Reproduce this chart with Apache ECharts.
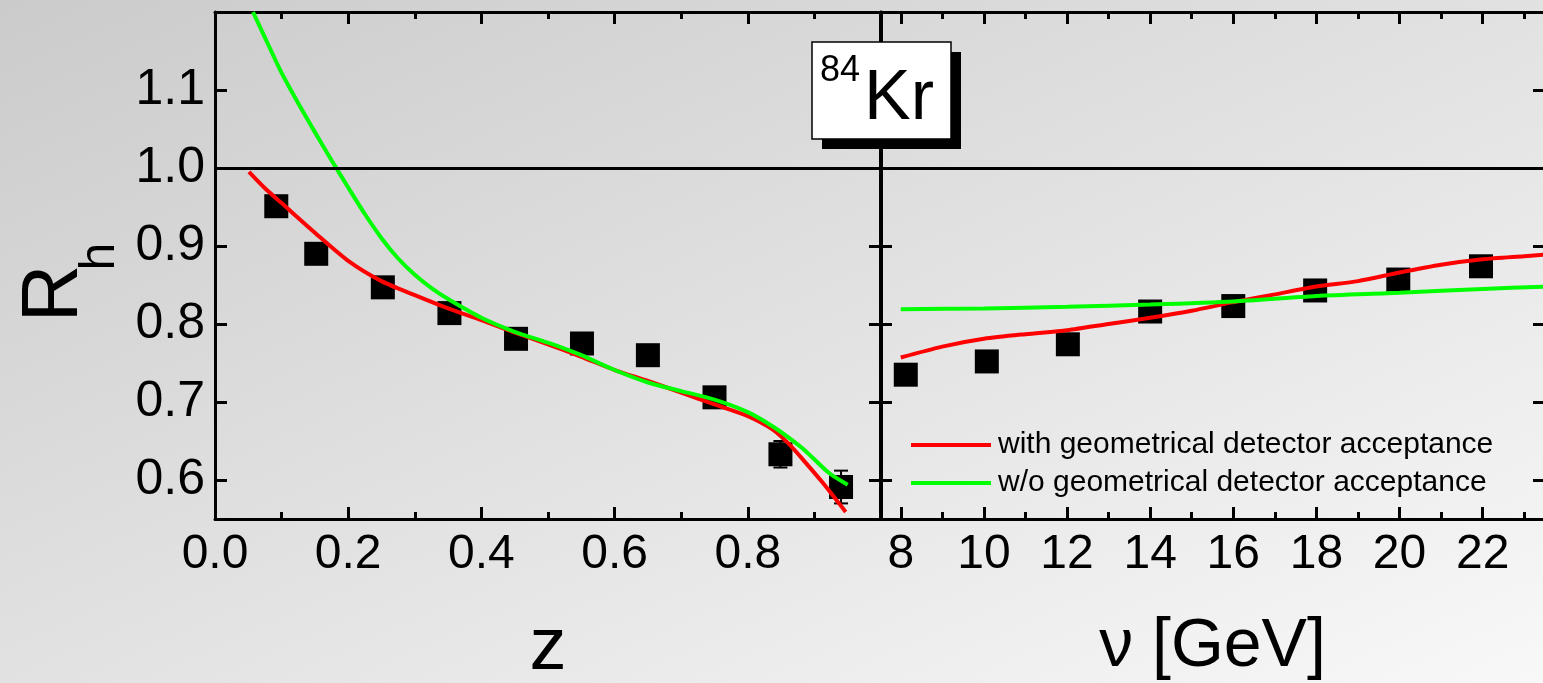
<!DOCTYPE html>
<html>
<head>
<meta charset="utf-8">
<script src="https://cdn.jsdelivr.net/npm/echarts@6/dist/echarts.min.js"></script>
<style>
  html, body { margin: 0; padding: 0; }
  #chart {
    width: 1543px; height: 683px;
    background: linear-gradient(to bottom right, #cbcbcb, #f8f8f8);
  }
</style>
</head>
<body>
<div id="chart"></div>
<script>
// measured points, z dependence
const zVals = [0.092, 0.152, 0.252, 0.352, 0.452, 0.551, 0.650, 0.750, 0.849, 0.940];
const zRh   = [0.951, 0.890, 0.847, 0.814, 0.781, 0.775, 0.760, 0.706, 0.633, 0.591];
const zErr  = [0.004, 0.004, 0.004, 0.004, 0.004, 0.005, 0.005, 0.006, 0.017, 0.021];

// measured points, nu dependence
const nuVals = [8.12, 10.07, 12.02, 14.0, 16.0, 17.97, 19.97, 21.96];
const nuRh   = [0.735, 0.752, 0.774, 0.816, 0.823, 0.843, 0.857, 0.874];
const nuErr  = [0.008, 0.008, 0.008, 0.008, 0.008, 0.008, 0.008, 0.008];

// model curves (with / without geometrical acceptance)
const zCurveX     = [0.051, 0.075, 0.1, 0.15, 0.2, 0.25, 0.3, 0.35, 0.4, 0.45, 0.5, 0.55, 0.6, 0.65, 0.7, 0.75, 0.8, 0.837, 0.862, 0.887, 0.912, 0.947];
const zRedY       = [0.995, 0.974, 0.955, 0.917, 0.881, 0.855, 0.837, 0.820, 0.805, 0.789, 0.774, 0.758, 0.741, 0.727, 0.712, 0.697, 0.682, 0.665, 0.646, 0.622, 0.597, 0.559];
const zGreenX     = [0.057, 0.08, 0.1, 0.125, 0.15, 0.175, 0.2, 0.225, 0.25, 0.275, 0.3, 0.325, 0.35, 0.4, 0.45, 0.5, 0.55, 0.6, 0.65, 0.7, 0.75, 0.8, 0.837, 0.862, 0.887, 0.922, 0.95];
const zGreenY     = [1.200, 1.158, 1.122, 1.083, 1.046, 1.010, 0.975, 0.941, 0.910, 0.884, 0.863, 0.846, 0.832, 0.808, 0.790, 0.776, 0.760, 0.741, 0.725, 0.714, 0.703, 0.687, 0.669, 0.654, 0.637, 0.609, 0.594];

const nuRedX   = [8.0, 9, 10, 11, 12, 13, 14, 15, 16, 17, 18, 19, 20, 21, 22, 23, 23.5];
const nuRedY   = [0.757, 0.771, 0.781, 0.787, 0.792, 0.800, 0.808, 0.817, 0.828, 0.838, 0.848, 0.855, 0.866, 0.876, 0.883, 0.887, 0.889];
const nuGreenX = [8.0, 10, 12, 14, 16, 18, 20, 22, 23.5];
const nuGreenY = [0.819, 0.820, 0.822, 0.825, 0.829, 0.836, 0.840, 0.845, 0.848];

// axis ticks / labels
const rhTicks    = [0.6, 0.7, 0.8, 0.9, 1.0, 1.1];
const nuMajor    = [8, 10, 12, 14, 16, 18, 20, 22];
const nuMinor    = [9, 11, 13, 15, 17, 19, 21, 23];

const nameRed = 'with geometrical detector acceptance';
const nameGreen = 'w/o geometrical detector acceptance';

const FONT = '"Liberation Sans", Arial, sans-serif';
const zip = (a, b) => a.map((v, i) => [v, b[i]]);
const errData = (xs, ys, es) => xs.map((x, i) => [x, ys[i] - es[i], ys[i] + es[i]]);

const lineAx = {show: true, onZero: false, lineStyle: {color: '#000', width: 3}};

function xAx(gridIndex, position, extra) {
    return Object.assign({
        type: 'value', gridIndex, position,
        axisLine: lineAx,
        splitLine: {show: false},
        axisTick: {show: true, inside: true, length: 12, lineStyle: {color: '#000', width: 3}},
        axisLabel: {show: false}
    }, extra);
}

function yAx(gridIndex, position, extra) {
    return Object.assign({
        type: 'value', gridIndex, position, min: 0.55, max: 1.2,
        axisLine: lineAx,
        splitLine: {show: false},
        axisTick: {show: true, inside: true, length: 12, customValues: rhTicks, lineStyle: {color: '#000', width: 3}},
        axisLabel: {show: false}
    }, extra);
}

const zLabel = {
    show: true, fontSize: 48, color: '#000', fontFamily: FONT, margin: 12,
    showMaxLabel: false, formatter: v => v.toFixed(1)
};

function errSeries(xi, yi, data) {
    return {
        type: 'custom', xAxisIndex: xi, yAxisIndex: yi, data, z: 2,
        renderItem: (params, api) => {
            const x = api.value(0);
            const lo = api.coord([x, api.value(1)]);
            const hi = api.coord([x, api.value(2)]);
            const st = {stroke: '#000', lineWidth: 2};
            return {
                type: 'group', children: [
                    {type: 'line', shape: {x1: lo[0], y1: lo[1], x2: hi[0], y2: hi[1]}, style: st},
                    {type: 'line', shape: {x1: lo[0] - 7, y1: lo[1], x2: lo[0] + 7, y2: lo[1]}, style: st},
                    {type: 'line', shape: {x1: hi[0] - 7, y1: hi[1], x2: hi[0] + 7, y2: hi[1]}, style: st}
                ]
            };
        }
    };
}

function curve(name, color, xi, yi, data, withOne) {
    const s = {
        name, type: 'line', xAxisIndex: xi, yAxisIndex: yi, data,
        showSymbol: false, symbol: 'none', smooth: 0.25, z: 4,
        color: color,
        lineStyle: {color, width: 4},
        itemStyle: {color}
    };
    if (withOne) {
        s.markLine = {
            silent: true, symbol: 'none', label: {show: false},
            lineStyle: {color: '#000', width: 3, type: 'solid'},
            data: [{yAxis: 1.0}]
        };
    }
    return s;
}

function points(xi, yi, data) {
    return {
        type: 'scatter', xAxisIndex: xi, yAxisIndex: yi, data,
        symbol: 'rect', symbolSize: 24, itemStyle: {color: '#000', opacity: 1}, z: 3
    };
}

const chart = echarts.init(document.getElementById('chart'));
chart.setOption({
    backgroundColor: 'transparent',
    animation: false,
    textStyle: {fontFamily: FONT},
    grid: [
        {left: 215, top: 12, width: 666, height: 507, containLabel: false, outerBoundsMode: 'none'},
        {left: 880, top: 12, width: 665, height: 507, containLabel: false, outerBoundsMode: 'none'}
    ],
    xAxis: [
        xAx(0, 'bottom', {
            min: 0, max: 1, interval: 0.2,
            minorTick: {show: true, splitNumber: 2, length: 7, lineStyle: {color: '#000', width: 3}},
            axisLabel: zLabel,
            name: 'z', nameLocation: 'middle', nameGap: 93,
            nameTextStyle: {fontSize: 74, color: '#000', fontFamily: FONT}
        }),
        xAx(0, 'top', {
            min: 0, max: 1, interval: 0.2,
            minorTick: {show: true, splitNumber: 2, length: 7, lineStyle: {color: '#000', width: 3}}
        }),
        xAx(1, 'bottom', {
            min: 7.5, max: 23.5,
            axisTick: {show: true, inside: true, length: 12, customValues: nuMajor, lineStyle: {color: '#000', width: 3}},
            axisLabel: {show: true, customValues: nuMajor, fontSize: 48, color: '#000', fontFamily: FONT, margin: 12},
            name: 'ν [GeV]', nameLocation: 'middle', nameGap: 94,
            nameTextStyle: {fontSize: 68, color: '#000', fontFamily: FONT}
        }),
        xAx(1, 'top', {
            min: 7.5, max: 23.5,
            axisTick: {show: true, inside: true, length: 12, customValues: nuMajor, lineStyle: {color: '#000', width: 3}}
        }),
        xAx(1, 'bottom', {
            min: 7.5, max: 23.5,
            axisTick: {show: true, inside: true, length: 7, customValues: nuMinor, lineStyle: {color: '#000', width: 3}}
        }),
        xAx(1, 'top', {
            min: 7.5, max: 23.5,
            axisTick: {show: true, inside: true, length: 7, customValues: nuMinor, lineStyle: {color: '#000', width: 3}}
        })
    ],
    yAxis: [
        yAx(0, 'left', {
            axisLabel: {
                show: true, customValues: rhTicks, fontSize: 50, color: '#000', fontFamily: FONT, margin: 10,
                formatter: v => v.toFixed(1)
            },
            name: '{r|R}{h|h}', nameLocation: 'middle', nameGap: 90,
            nameTextStyle: {
                color: '#000', fontFamily: FONT,
                rich: {
                    r: {fontSize: 80, color: '#000', fontFamily: FONT, width: 46},
                    h: {fontSize: 50, color: '#000', fontFamily: FONT, padding: [90, 28, 0, 0]}
                }
            }
        }),
        yAx(0, 'right'),
        yAx(1, 'left'),
        yAx(1, 'right')
    ],
    legend: {
        data: [nameRed, nameGreen],
        orient: 'vertical',
        left: 906, top: 425,
        icon: 'rect', itemWidth: 80, itemHeight: 4, itemGap: 8,
        textStyle: {fontSize: 30, color: '#000', fontFamily: FONT, lineHeight: 30, padding: [0, 0, 0, 2]}
    },
    graphic: [
        {type: 'rect', shape: {x: 822, y: 52, width: 139, height: 97}, style: {fill: '#000'}, z: 100},
        {type: 'rect', shape: {x: 812, y: 42, width: 139, height: 97}, style: {fill: '#fff', stroke: '#000', lineWidth: 1.5}, z: 101},
        {type: 'text', x: 820, y: 53, z: 102, style: {text: '84', fontSize: 36, fill: '#000', fontFamily: FONT}},
        {type: 'text', x: 864, y: 65, z: 102, style: {text: 'Kr', fontSize: 70, fill: '#000', fontFamily: FONT}}
    ],
    series: [
        errSeries(0, 0, errData(zVals, zRh, zErr)),
        points(0, 0, zip(zVals, zRh)),
        curve(nameRed, '#ff0000', 0, 0, zip(zCurveX, zRedY), true),
        curve(nameGreen, '#00ff00', 0, 0, zip(zGreenX, zGreenY), false),
        errSeries(2, 2, errData(nuVals, nuRh, nuErr)),
        points(2, 2, zip(nuVals, nuRh)),
        curve(nameRed, '#ff0000', 2, 2, zip(nuRedX, nuRedY), true),
        curve(nameGreen, '#00ff00', 2, 2, zip(nuGreenX, nuGreenY), false)
    ]
});
</script>
</body>
</html>
